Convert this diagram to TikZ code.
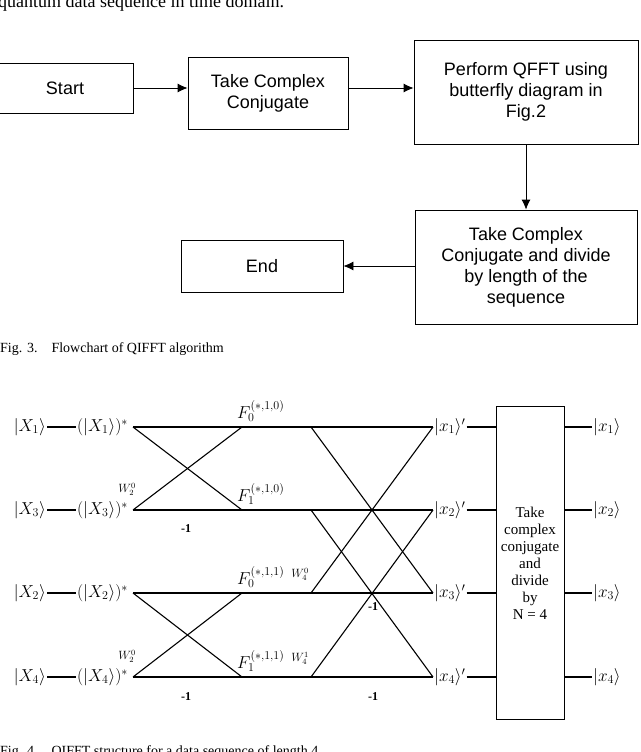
\documentclass[tikz,border=0pt]{standalone}
\usepackage{fontspec}
\setmainfont{Liberation Serif}
\newfontfamily\flowfont{Liberation Sans}
\usetikzlibrary{positioning,arrows.meta}
\tikzset{
  flowbox/.style={draw, thick, align=center, font=\flowfont\fontsize{18}{21}\selectfont, inner sep=2pt},
  flow/.style={-{Latex[length=10pt,width=9pt]}, thick},
  wire/.style={line width=1.1pt},
  lab/.style={font=\fontsize{18}{20}\selectfont, inner sep=1pt},
  small/.style={font=\fontsize{12}{14}\selectfont, inner sep=1pt}
}
\begin{document}
\begin{tikzpicture}[x=1pt, y=-1pt]
    \clip (0,0) rectangle (640,752);
    \useasboundingbox (0,0) rectangle (640,752);

    \node[anchor=west, font=\fontsize{18}{20}\selectfont, inner sep=0] (intro) at (-2,3) {quantum data sequence in time domain.};

    % flowchart
    \node[flowbox, minimum width=136pt, minimum height=50pt] (start) at (65,88) {Start};
    \node[flowbox, minimum width=160pt, minimum height=72pt] (conj) at (268,93) {Take Complex\\Conjugate};
    \node[flowbox, minimum width=224pt, minimum height=104pt] (qfft) at (526,92) {Perform QFFT using\\butterfly diagram in\\Fig.2};
    \node[flowbox, minimum width=222pt, minimum height=114pt] (divide) at (526,267) {Take Complex\\Conjugate and divide\\by length of the\\sequence};
    \node[flowbox, minimum width=162pt, minimum height=52pt] (finish) at (262,266) {End};

    \draw[flow] (start) -- (conj.west |- start);
    \draw[flow] (conj.east |- start) -- (qfft.west |- start);
    \draw[flow] (qfft) -- (divide);
    \draw[flow] (divide.west |- finish) -- (finish);

    \node[anchor=west, font=\fontsize{14}{16}\selectfont, inner sep=0] (cap3) at (0,349) {Fig. 3.\quad Flowchart of QIFFT algorithm};

    % butterfly structure
    \foreach \i/\y/\k in {1/427/1, 2/510/3, 3/593/2, 4/677/4} {
        \node[lab, anchor=east] (in\i) at (47,\y) {$|X_{\k}\rangle$};
        \node[lab, anchor=west] (cj\i) at (76,\y) {$(|X_{\k}\rangle)^{*}$};
        \coordinate (a\i) at (133,\y);
        \coordinate (b\i) at (242,\y);
        \coordinate (c\i) at (311,\y);
        \coordinate (d\i) at (433,\y);
        \node[lab, anchor=west] (out\i) at (433,\y) {$|x_{\i}\rangle'$};
        \node[lab, anchor=west] (res\i) at (592,\y) {$|x_{\i}\rangle$};
        \draw[wire] (in\i) -- (cj\i);
        \draw[wire] (a\i) -- (d\i);
    }
    \node[draw, thick, minimum width=68pt, minimum height=313pt, align=center,
          font=\fontsize{15}{17}\selectfont] (norm) at (530,563)
          {Take\\complex\\conjugate\\and\\divide\\by\\N = 4};
    \foreach \i in {1,...,4} {
        \draw[wire] (out\i) -- (norm.west |- out\i);
        \draw[wire] (norm.east |- out\i) -- (res\i);
    }

    % stage 1
    \draw[wire] (a1) -- (b2);
    \draw[wire] (a2) -- (b1);
    \draw[wire] (a3) -- (b4);
    \draw[wire] (a4) -- (b3);
    % stage 2
    \draw[wire] (c1) -- (d3);
    \draw[wire] (c3) -- (d1);
    \draw[wire] (c2) -- (d4);
    \draw[wire] (c4) -- (d2);

    \node[lab, anchor=south west] (f10) at (236,423) {$F_0^{(*,1,0)}$};
    \node[lab, anchor=south west] (f11) at (236,506) {$F_1^{(*,1,0)}$};
    \node[lab, anchor=south west] (f20) at (236,589) {$F_0^{(*,1,1)}$};
    \node[lab, anchor=south west] (f21) at (236,673) {$F_1^{(*,1,1)}$};
    \node[small, anchor=south east] (w1) at (137,497) {$W_2^0$};
    \node[small, anchor=south east] (w2) at (137,664) {$W_2^0$};
    \node[small, anchor=south east] (w3) at (310,582) {$W_4^0$};
    \node[small, anchor=south east] (w4) at (310,666) {$W_4^1$};
    \node[small, font=\bfseries\fontsize{12}{14}\selectfont] (m1) at (186,529) {-1};
    \node[small, font=\bfseries\fontsize{12}{14}\selectfont] (m2) at (186,697) {-1};
    \node[small, font=\bfseries\fontsize{12}{14}\selectfont] (m3) at (373,607) {-1};
    \node[small, font=\bfseries\fontsize{12}{14}\selectfont] (m4) at (373,697) {-1};

    \node[anchor=west, font=\fontsize{14}{16}\selectfont, inner sep=0] (cap4) at (0,752) {Fig. 4.\quad QIFFT structure for a data sequence of length 4};
\end{tikzpicture}
\end{document}
